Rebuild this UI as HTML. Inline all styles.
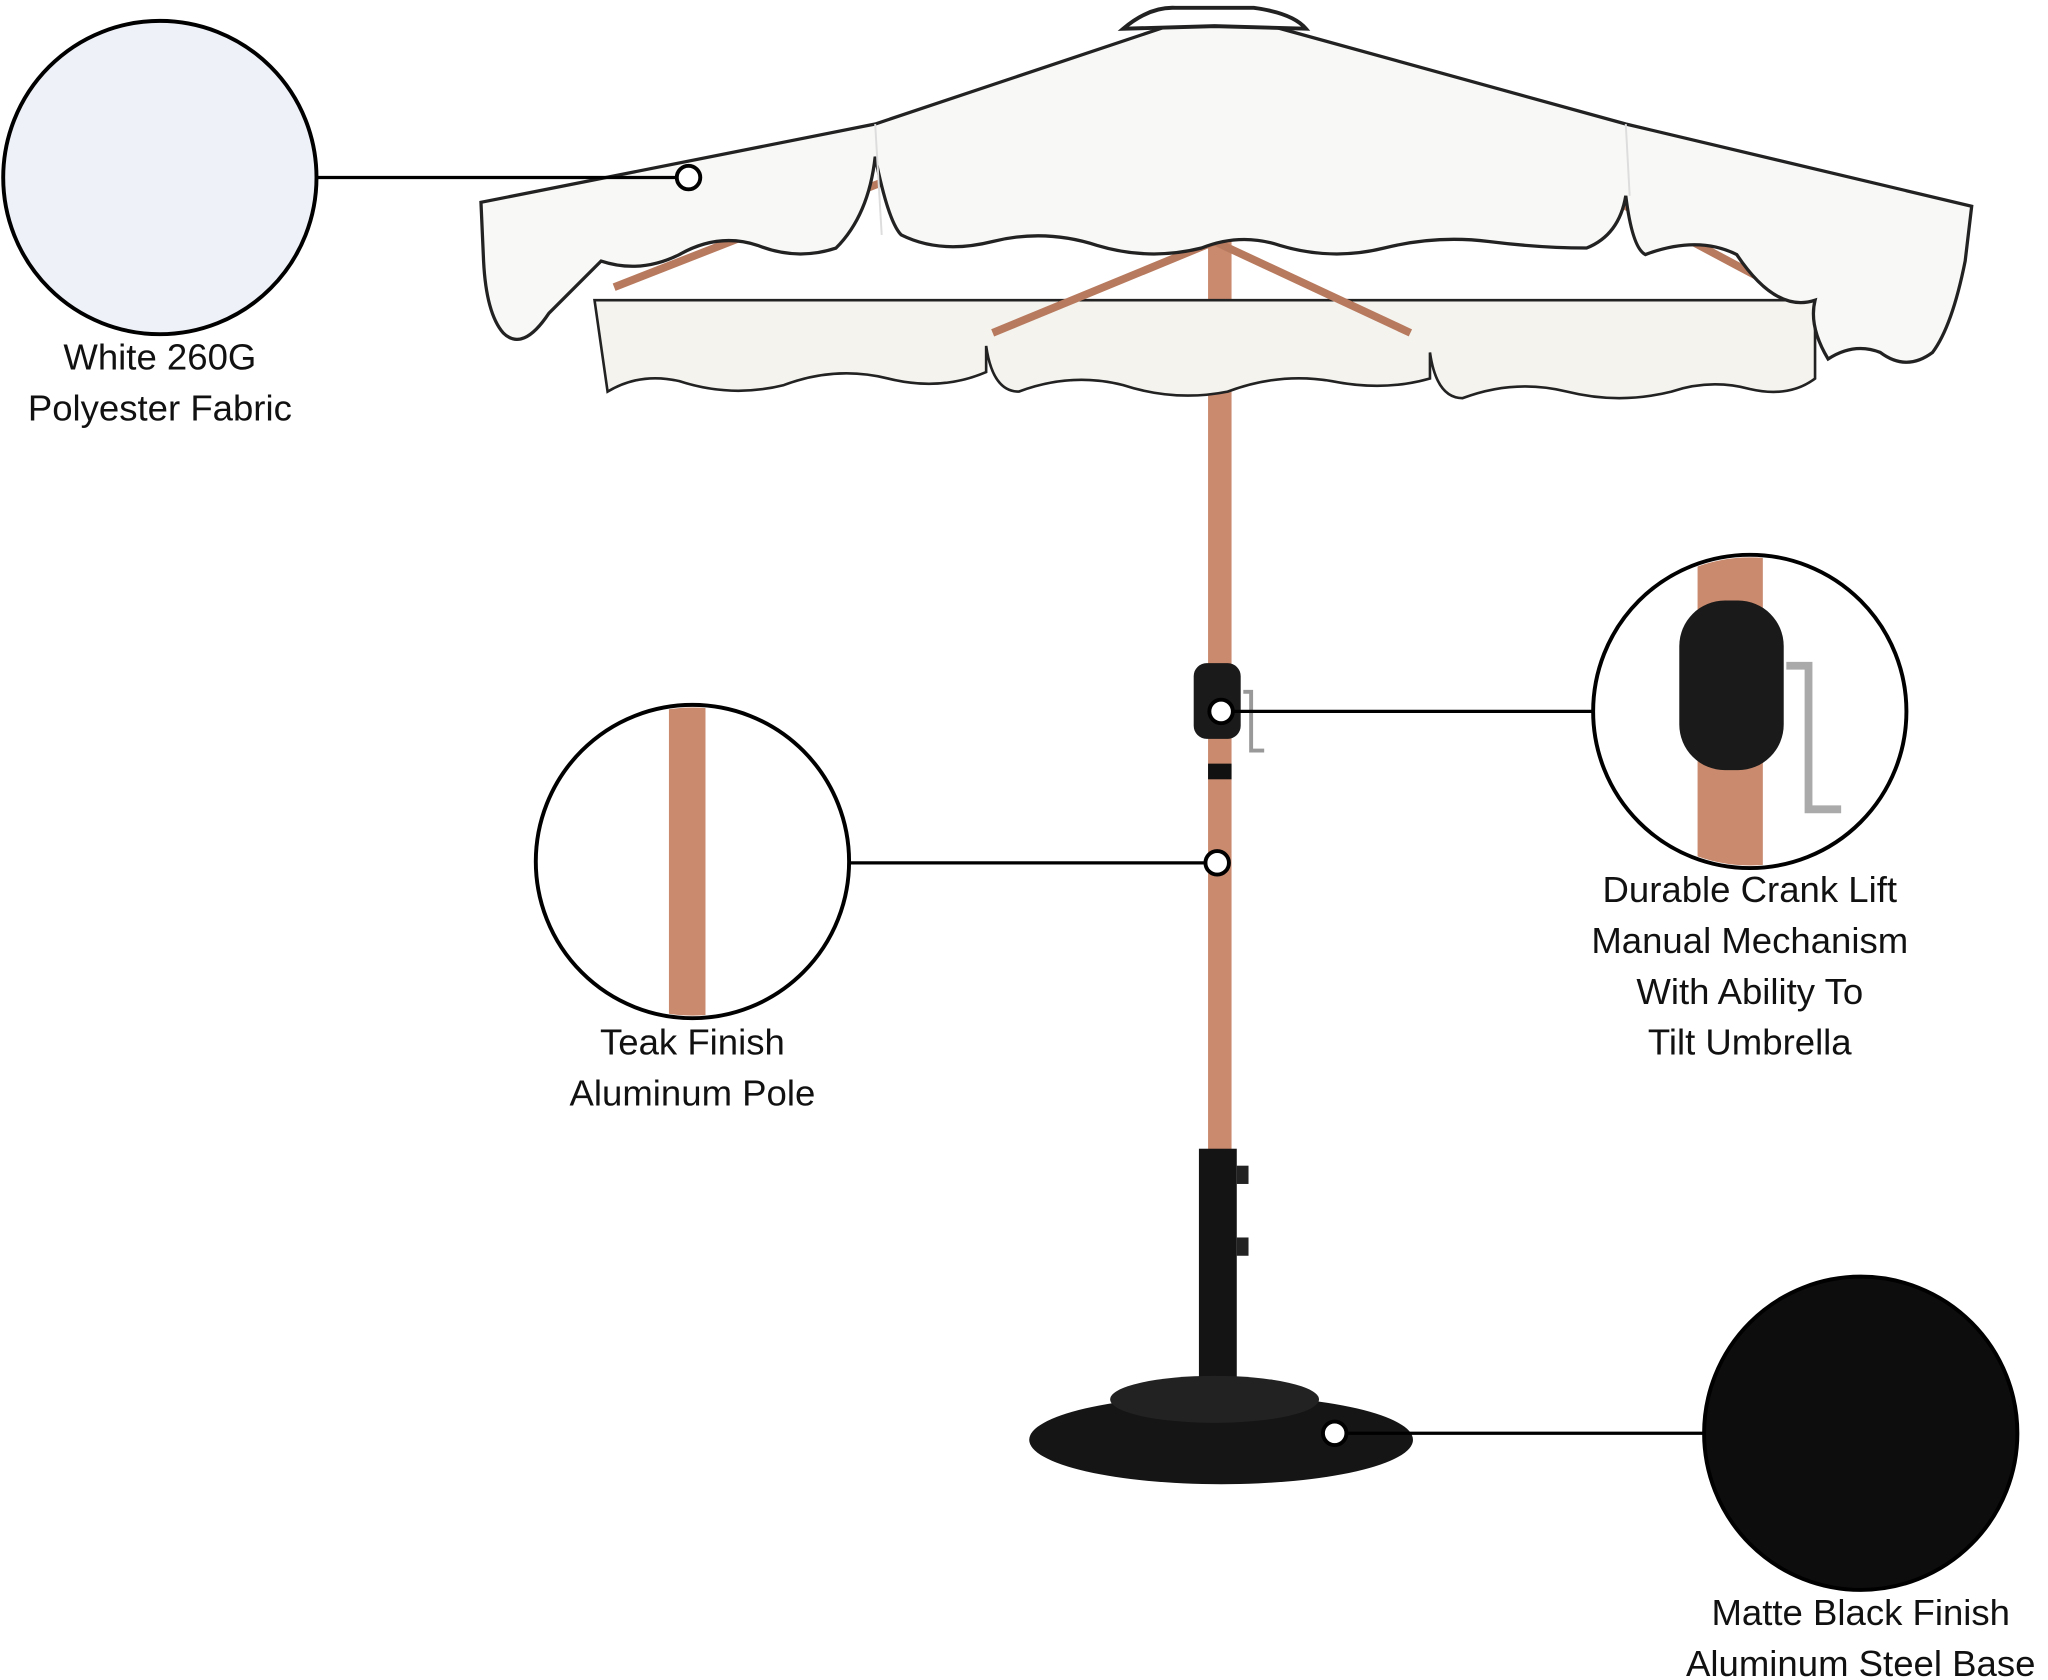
<!DOCTYPE html>
<html><head><meta charset="utf-8"><style>
html,body{margin:0;padding:0;background:#fff;}
svg{display:block}
text{font-family:"Liberation Sans",sans-serif;font-size:28px;fill:#111;text-anchor:middle}
</style></head><body>
<svg width="2048" height="1680" viewBox="0 0 1568 1287" xmlns="http://www.w3.org/2000/svg">
<defs>
<clipPath id="c1"><circle cx="530" cy="660" r="118"/></clipPath>
<clipPath id="c2"><circle cx="1340" cy="545" r="118"/></clipPath>
</defs>
<!-- pole -->
<rect x="925" y="180" width="18" height="705" fill="#c98a6e"/>
<rect x="925" y="585" width="18" height="12" fill="#111"/>
<!-- canopy underside -->
<path d="M455 230 L1390 230 L1390 290 Q1370 305 1340 298 Q1310 290 1280 300 Q1240 310 1200 300 Q1160 290 1120 305 Q1100 305 1095 270 L1095 290 Q1060 300 1020 292 Q980 285 940 300 Q900 308 860 295 Q820 285 780 300 Q760 300 755 265 L755 285 Q720 300 680 290 Q640 280 600 295 Q560 305 520 292 Q490 285 465 300 Z" fill="#f4f3ee" stroke="#222" stroke-width="2"/>
<!-- ribs -->
<g stroke="#b87a5e" stroke-width="6">
<line x1="930" y1="185" x2="760" y2="255"/><line x1="930" y1="185" x2="1080" y2="255"/>
<line x1="700" y1="130" x2="470" y2="220"/><line x1="1230" y1="150" x2="1380" y2="230"/>
</g>
<!-- canopy top -->
<path d="M930 8 L1245 95 L1510 158 L1505 200 Q1495 250 1480 270 Q1460 285 1440 270 Q1420 262 1400 275 Q1385 250 1390 230 Q1360 240 1330 195 Q1300 180 1260 195 Q1250 190 1245 150 Q1240 180 1215 190 Q1180 190 1140 185 Q1100 180 1060 190 Q1020 200 980 188 Q950 178 920 190 Q880 200 840 188 Q800 175 760 185 Q720 195 690 180 Q680 170 670 120 Q665 165 640 190 Q610 200 580 188 Q550 178 520 195 Q490 210 460 200 Q445 215 420 240 Q400 270 385 255 Q372 240 370 200 L368 155 L670 95 Z" fill="#f8f8f6" stroke="#222" stroke-width="2.5"/>
<path d="M860 22 Q880 5 900 6 L960 6 Q990 10 1000 22 L930 20 Z" fill="#fff" stroke="#222" stroke-width="3"/>
<line x1="670" y1="95" x2="675" y2="180" stroke="#ddd" stroke-width="1.5"/>
<line x1="1245" y1="95" x2="1248" y2="150" stroke="#ddd" stroke-width="1.5"/>
<!-- crank -->
<rect x="914" y="508" width="36" height="58" rx="10" fill="#1a1a1a"/>
<path d="M952 530 L958 530 L958 575 L968 575" stroke="#999" stroke-width="3" fill="none"/>
<!-- base pipe -->
<rect x="918" y="880" width="29" height="182" fill="#141414"/>
<rect x="947" y="893" width="9" height="14" fill="#222"/>
<rect x="947" y="948" width="9" height="14" fill="#222"/>
<ellipse cx="935" cy="1103" rx="147" ry="34" fill="#151515"/>
<ellipse cx="930" cy="1072" rx="80" ry="18" fill="#222"/>
<!-- circle 1 -->
<circle cx="122" cy="136" r="120" fill="#eef2f8" stroke="#000" stroke-width="3"/>
<line x1="243" y1="136" x2="527" y2="136" stroke="#000" stroke-width="2.5"/>
<circle cx="527" cy="136" r="9" fill="#fff" stroke="#000" stroke-width="3"/>
<text x="122" y="283">White 260G</text>
<text x="122" y="322">Polyester Fabric</text>
<!-- circle 2 -->
<g clip-path="url(#c1)"><rect x="512" y="530" width="28" height="260" fill="#c98a6e"/></g>
<circle cx="530" cy="660" r="120" fill="none" stroke="#000" stroke-width="3"/>
<line x1="650" y1="661" x2="932" y2="661" stroke="#000" stroke-width="2.5"/>
<circle cx="932" cy="661" r="9" fill="#fff" stroke="#000" stroke-width="3"/>
<text x="530" y="808">Teak Finish</text>
<text x="530" y="847">Aluminum Pole</text>
<!-- circle 3 -->
<g clip-path="url(#c2)">
<rect x="1300" y="420" width="50" height="260" fill="#c98a6e"/>
<rect x="1286" y="460" width="80" height="130" rx="35" fill="#1a1a1a"/>
<path d="M1368 510 L1385 510 L1385 620 L1410 620" stroke="#aaa" stroke-width="6" fill="none"/>
</g>
<circle cx="1340" cy="545" r="120" fill="none" stroke="#000" stroke-width="3"/>
<line x1="940" y1="545" x2="1220" y2="545" stroke="#000" stroke-width="2.5"/>
<circle cx="935" cy="545" r="9" fill="#fff" stroke="#000" stroke-width="3"/>
<text x="1340" y="691">Durable Crank Lift</text>
<text x="1340" y="730">Manual Mechanism</text>
<text x="1340" y="769">With Ability To</text>
<text x="1340" y="808">Tilt Umbrella</text>
<!-- circle 4 -->
<circle cx="1425" cy="1098" r="120" fill="#0d0d0d" stroke="#000" stroke-width="3"/>
<line x1="1022" y1="1098" x2="1305" y2="1098" stroke="#000" stroke-width="2.5"/>
<circle cx="1022" cy="1098" r="9" fill="#fff" stroke="#000" stroke-width="3"/>
<text x="1425" y="1245">Matte Black Finish</text>
<text x="1425" y="1284">Aluminum Steel Base</text>
</svg>
</body></html>
